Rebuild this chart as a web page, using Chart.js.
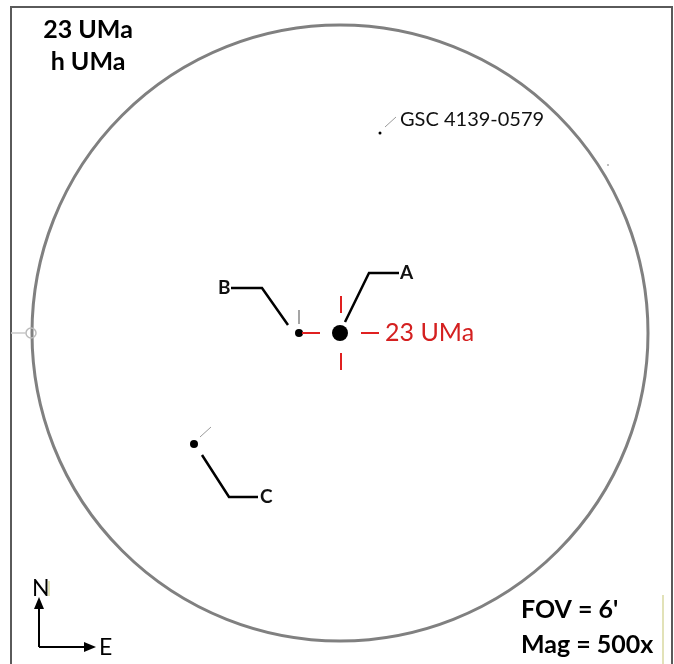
<!DOCTYPE html>
<html><head><meta charset="utf-8">
<script src="https://cdn.jsdelivr.net/npm/chart.js@4"></script>
<style>html,body{margin:0;padding:0;background:#fff;overflow:hidden}canvas{display:block}</style>
</head><body>
<canvas id="c" width="674" height="664"></canvas>
<script>
// Chart coordinates (x right, y down), field centred on 23 UMa
const starNames = ["23 UMa", "B", "C", "GSC 4139-0579", "faint"];
const starX = [340, 299, 194, 380, 608];
const starY = [333, 333, 444, 133, 165];
const starMag = [1, 3, 3, 5, 6];

const fieldCentre = [340, 333];
const fieldRadius = 308;

// Leader lines (label connectors)
const leaderA = [[345, 322], [369, 273], [399, 273]];
const leaderB = [[288, 325], [262, 288], [231, 288]];
const leaderC = [[202, 455], [229, 497], [258, 497]];
const tickB = [[299, 310], [299, 324]];
const tickC = [[200, 437], [211, 427]];
const tickGSC = [[385, 127], [396, 117]];
const crossTop = [[341, 296], [341, 313]];
const crossBottom = [[341, 353], [341, 370]];
const crossLeft = [[302, 333], [320, 333]];
const crossRight = [[361, 333], [379, 333]];
const edgeLine = [[11, 333], [26, 333]];

const labelText = ["A", "B", "C", "23 UMa", "GSC 4139-0579"];
const labelX = [400, 218, 260, 385, 400];
const labelY = [273, 288, 497, 333, 120];

const titleLines = ["23 UMa", "h UMa"];
const infoLines = ["FOV = 6'", "Mag = 500x"];

const toPts = a => a.map(p => ({x: p[0], y: p[1]}));
const seg = (pts, color, w) => ({type: 'line', data: toPts(pts), borderColor: color, borderWidth: w, pointRadius: 0, fill: false, tension: 0});

const radiusForMag = m => ({1: 8, 3: 4, 5: 1.5, 6: 1}[m]);

const decor = {
  id: 'decor',
  beforeDatasetsDraw(chart) {
    const {ctx, scales: {x, y}} = chart;
    ctx.save();
    // frame
    ctx.strokeStyle = '#5a5a5a'; ctx.lineWidth = 2;
    ctx.beginPath();
    ctx.moveTo(x.getPixelForValue(11), y.getPixelForValue(664));
    ctx.lineTo(x.getPixelForValue(11), y.getPixelForValue(7));
    ctx.lineTo(x.getPixelForValue(672), y.getPixelForValue(7));
    ctx.lineTo(x.getPixelForValue(672), y.getPixelForValue(664));
    ctx.stroke();
    // field circle
    const cx = x.getPixelForValue(fieldCentre[0]), cy = y.getPixelForValue(fieldCentre[1]);
    const r = x.getPixelForValue(fieldCentre[0] + fieldRadius) - cx;
    ctx.strokeStyle = '#808080'; ctx.lineWidth = 3;
    ctx.beginPath(); ctx.arc(cx, cy, r, 0, Math.PI * 2); ctx.stroke();
    // small edge marker
    ctx.strokeStyle = '#bbbbbb'; ctx.lineWidth = 1.5;
    ctx.beginPath(); ctx.arc(x.getPixelForValue(31), cy, 5, 0, Math.PI * 2); ctx.stroke();
    ctx.restore();
  },
  afterDatasetsDraw(chart) {
    const {ctx, scales: {x, y}} = chart;
    ctx.save();
    ctx.textBaseline = 'middle';
    // labels
    labelText.forEach((t, i) => {
      if (i === 3) { ctx.fillStyle = '#d42020'; ctx.font = '25px Lato'; }
      else if (i === 4) { ctx.fillStyle = '#111'; ctx.font = '20px Lato'; }
      else { ctx.fillStyle = '#111'; ctx.font = 'bold 19px Lato'; }
      ctx.textAlign = 'left';
      ctx.fillText(t, x.getPixelForValue(labelX[i]), y.getPixelForValue(labelY[i]));
    });
    // title
    ctx.fillStyle = '#000'; ctx.font = 'bold 25px Lato'; ctx.textAlign = 'center';
    ctx.fillText(titleLines[0], x.getPixelForValue(88), y.getPixelForValue(30));
    ctx.fillText(titleLines[1], x.getPixelForValue(88), y.getPixelForValue(62));
    // info
    ctx.textAlign = 'left'; ctx.font = 'bold 25px Lato';
    ctx.fillText(infoLines[0], x.getPixelForValue(521), y.getPixelForValue(610));
    ctx.fillText(infoLines[1], x.getPixelForValue(521), y.getPixelForValue(645));
    // compass
    ctx.strokeStyle = '#000'; ctx.fillStyle = '#000'; ctx.lineWidth = 2;
    const ox = x.getPixelForValue(39), oy = y.getPixelForValue(647);
    ctx.beginPath(); ctx.moveTo(ox, oy); ctx.lineTo(ox, y.getPixelForValue(604)); ctx.stroke();
    ctx.beginPath(); ctx.moveTo(ox, oy); ctx.lineTo(x.getPixelForValue(88), oy); ctx.stroke();
    ctx.beginPath(); ctx.moveTo(ox, y.getPixelForValue(597)); ctx.lineTo(ox - 5, y.getPixelForValue(609)); ctx.lineTo(ox + 5, y.getPixelForValue(609)); ctx.closePath(); ctx.fill();
    ctx.beginPath(); ctx.moveTo(x.getPixelForValue(96), oy); ctx.lineTo(x.getPixelForValue(84), oy - 5); ctx.lineTo(x.getPixelForValue(84), oy + 5); ctx.closePath(); ctx.fill();
    ctx.font = '23px Lato'; ctx.textAlign = 'left';
    ctx.fillText('N', x.getPixelForValue(32), y.getPixelForValue(589));
    ctx.fillText('E', x.getPixelForValue(99), y.getPixelForValue(648));
    // faint yellow marks
    ctx.strokeStyle = '#d8d8a0'; ctx.lineWidth = 1.5;
    ctx.beginPath(); ctx.moveTo(x.getPixelForValue(663), y.getPixelForValue(595)); ctx.lineTo(x.getPixelForValue(663), y.getPixelForValue(664)); ctx.stroke();
    ctx.beginPath(); ctx.moveTo(x.getPixelForValue(49), y.getPixelForValue(581)); ctx.lineTo(x.getPixelForValue(49), y.getPixelForValue(596)); ctx.stroke();
    ctx.restore();
  }
};

new Chart(document.getElementById('c'), {
  type: 'scatter',
  data: {
    datasets: [
      seg(edgeLine, '#c8c8c8', 1.5),
      seg(leaderA, '#000', 2.5),
      seg(leaderB, '#000', 2.5),
      seg(leaderC, '#000', 2.5),
      seg(tickB, '#888', 1.5),
      seg(tickC, '#999', 1),
      seg(tickGSC, '#999', 1),
      seg(crossTop, '#e02020', 2),
      seg(crossBottom, '#e02020', 2),
      seg(crossLeft, '#e02020', 2),
      seg(crossRight, '#e02020', 2),
      {
        label: 'stars',
        data: starX.map((v, i) => ({x: v, y: starY[i]})),
        pointRadius: starMag.map(radiusForMag),
        pointBackgroundColor: starMag.map(m => m === 6 ? '#aaa' : '#000'),
        pointBorderWidth: 0,
        showLine: false
      }
    ]
  },
  options: {
    responsive: false,
    animation: false,
    layout: {padding: 0, autoPadding: false},
    plugins: {legend: {display: false}, tooltip: {enabled: false}},
    scales: {
      x: {type: 'linear', min: 0, max: 674, display: false},
      y: {type: 'linear', min: 0, max: 664, reverse: true, display: false}
    }
  },
  plugins: [decor]
});
</script>
</body></html>
